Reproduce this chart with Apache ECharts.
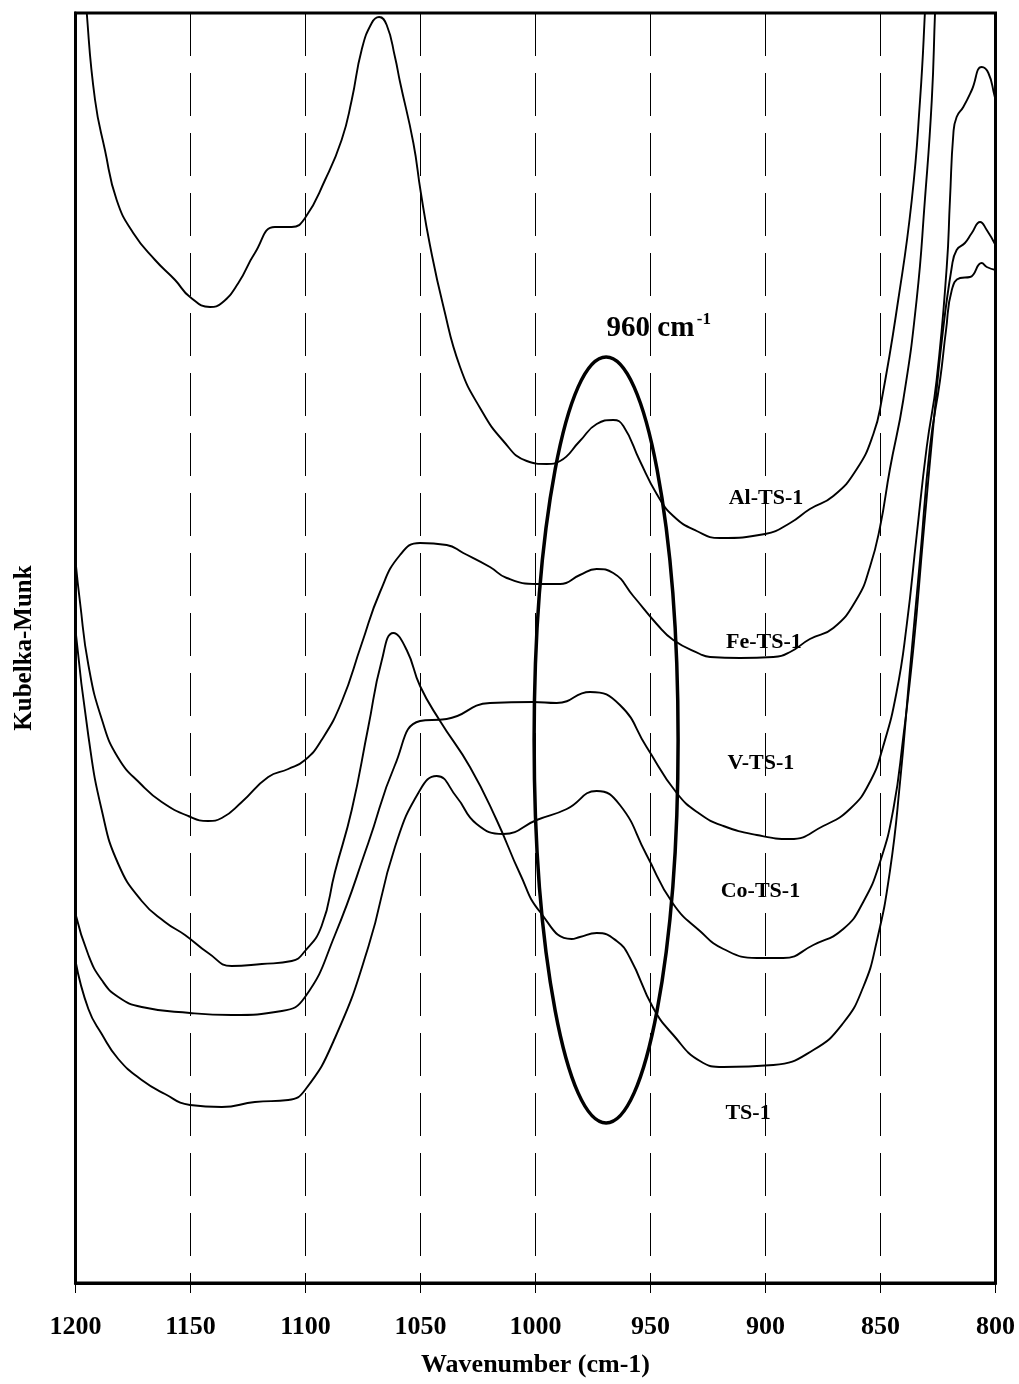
<!DOCTYPE html>
<html>
<head>
<meta charset="utf-8">
<script src="https://cdn.jsdelivr.net/npm/echarts@6/dist/echarts.min.js"></script>
<style>
html,body{margin:0;padding:0;background:#fff;}
#c{width:1019px;height:1384px;}
</style>
</head>
<body>
<div id="c"></div>
<script>
// ---- data: [wavenumber (cm-1), Kubelka-Munk (arbitrary units)] ----
const alTS1 = [
 [1196.3,132.3],[1195.1,127.0],[1191.5,118.3],[1187.2,113.3],[1182.1,108.3],[1174.9,105.0],
 [1165.4,102.3],[1156.7,100.3],[1150.2,98.6],[1141.5,97.6],[1136.4,98.0],[1129.2,100.0],
 [1122.0,103.0],[1113.3,105.6],[1106.0,105.6],[1100.2,106.5],[1091.5,110.3],[1084.3,114.3],
 [1079.9,118.3],[1075.6,123.3],[1071.2,126.0],[1068.0,126.6],[1064.7,125.8],[1061.1,122.6],
 [1058.9,120.1],[1053.1,114.0],[1049.9,109.1],[1045.9,103.8],[1040.1,97.7],[1032.8,91.6],
 [1024.1,87.5],[1014.0,84.2],[1003.8,82.2],[995.1,81.9],[989.3,82.2],[980.7,84.2],
 [973.4,85.9],[966.2,86.3],[961.8,85.7],[954.6,82.2],[947.3,78.9],[940.1,76.7],
 [929.9,75.2],[919.8,74.5],[900.2,74.9],[889.3,76.0],[880.7,77.4],[870.5,78.7],
 [860.3,81.4],[853.1,84.9],[849.5,88.3],[842.3,98.3],[836.4,108.3],[832.8,118.3],
 [830.7,127.0],[829.8,132.3]
];
const feTS1 = [
 [1200.0,72.2],[1198.0,68.0],[1194.4,61.8],[1188.6,56.4],[1181.4,52.5],[1171.2,49.8],
 [1162.5,48.1],[1151.0,46.7],[1142.3,46.2],[1136.4,46.5],[1127.7,48.1],[1116.2,50.6],
 [1107.5,51.4],[1100.2,52.3],[1093.0,54.3],[1084.3,58.1],[1075.6,63.9],[1067.6,69.1],
 [1058.9,72.8],[1050.2,74.0],[1038.6,73.8],[1031.4,73.0],[1019.8,71.6],[1012.5,70.5],
 [999.5,69.9],[989.3,69.9],[980.7,70.8],[973.4,71.4],[966.2,71.0],[957.5,68.7],
 [947.3,65.9],[940.1,64.3],[928.5,62.9],[924.1,62.6],[911.1,62.5],[896.6,62.6],
 [889.3,63.1],[880.7,64.4],[870.5,65.5],[860.3,68.4],[854.6,71.6],[850.2,75.6],
 [845.9,81.4],[840.1,88.3],[834.3,98.3],[830.7,108.3],[827.7,118.3],[826.3,127.0],
 [825.4,132.3]
];
const vTS1 = [
 [1200.0,36.9],[1194.4,32.8],[1188.6,30.3],[1181.4,28.6],[1171.2,27.6],[1150.2,27.0],
 [1132.1,26.8],[1110.3,27.2],[1100.2,28.6],[1087.2,34.8],[1072.7,44.0],[1061.1,51.8],
 [1050.2,56.2],[1038.6,56.4],[1019.8,58.0],[1001.1,58.1],[990.8,58.0],[976.3,59.1],
 [963.3,57.8],[951.7,53.6],[938.6,49.0],[928.5,46.9],[918.3,45.7],[903.8,44.8],
 [889.3,44.4],[874.9,45.7],[863.3,47.4],[854.6,50.1],[848.8,53.7],[843.0,59.1],
 [838.6,65.8],[834.3,74.7],[829.9,83.6],[825.6,90.3],[821.2,101.6],[819.8,108.3],
 [818.3,115.0],[816.9,116.6],[814.0,117.6],[810.3,119.3],[806.0,121.6],[803.1,121.0],
 [800.5,118.8],[800.0,118.3]
];
const coTS1 = [
 [1200.0,32.2],[1194.4,27.4],[1188.6,24.9],[1181.4,22.4],[1171.2,20.3],[1161.1,18.9],
 [1150.2,17.8],[1136.4,17.6],[1122.0,18.1],[1107.5,18.3],[1100.2,19.3],[1087.2,24.5],
 [1072.7,33.6],[1061.1,43.6],[1050.2,49.3],[1043.0,50.7],[1034.3,48.6],[1025.6,45.9],
 [1014.0,44.9],[999.5,46.3],[986.4,47.4],[973.4,49.2],[963.3,47.8],[951.7,42.8],
 [940.1,37.9],[928.5,35.2],[918.3,33.4],[903.8,32.5],[892.3,32.5],[879.2,33.8],
 [866.2,35.4],[857.5,38.1],[850.2,42.1],[844.4,47.4],[840.1,54.6],[835.7,63.5],
 [831.4,74.7],[827.0,85.8],[823.3,94.3],[819.0,101.6],[816.9,103.3],[813.3,104.0],
 [810.3,105.0],[806.7,106.1],[803.8,105.3],[800.0,103.8]
];
const ts1 = [
 [1200.0,65.3],[1194.4,54.7],[1188.6,47.3],[1181.4,41.9],[1171.2,38.2],[1161.1,36.1],
 [1152.4,34.8],[1142.3,33.0],[1132.1,31.7],[1119.0,31.9],[1106.0,32.2],[1100.2,33.2],
 [1093.0,35.7],[1087.2,41.1],[1079.9,47.3],[1072.7,55.6],[1066.9,62.2],[1061.8,65.0],
 [1056.0,63.3],[1050.2,59.7],[1041.5,56.2],[1028.5,51.6],[1016.9,46.3],[1006.7,40.9],
 [998.0,37.1],[984.3,34.4],[980.7,34.6],[973.4,35.0],[964.7,34.2],[958.9,32.5],
 [948.8,27.5],[940.1,24.8],[928.5,22.2],[918.3,21.6],[896.6,21.8],[879.2,23.3],
 [866.2,26.0],[857.5,29.6],[851.7,34.1],[845.9,41.2],[841.5,50.1],[837.2,61.3],
 [832.8,72.4],[828.5,83.6],[824.1,90.3],[821.5,95.3],[819.0,99.3],[815.4,100.5],
 [811.1,100.6],[806.0,102.0],[803.8,101.6],[800.0,101.3]
];
const seriesNames = ['Al-TS-1','Fe-TS-1','V-TS-1','Co-TS-1','TS-1'];
const seriesData = [alTS1, feTS1, vTS1, coTS1, ts1];
const xTicks = [1200,1150,1100,1050,1000,950,900,850,800];

// annotation anchors (data coordinates)
const labelAnchors = [[899.8,78.5],[900.7,64.1],[902.0,52.0],[902.2,39.2],[907.6,17.0]];
const bandLabel = '960 cm';
const bandSup = '-1';
const bandLabelAnchor = [950.0,95.4];
const bandSupAnchor = [926.8,96.3];
const ellipseCenter = [969.3,54.3];
const ellipseHalf = [31.3,38.3];

const FONT = '"Liberation Serif","Times New Roman",serif';
const chart = echarts.init(document.getElementById('c'), null, {renderer:'canvas'});

const option = {
  animation:false,
  backgroundColor:'#fff',
  grid:{left:75.5, right:23.5, top:13, bottom:101, show:true, borderColor:'#000', borderWidth:3, backgroundColor:'transparent'},
  xAxis:{
    type:'value', min:800, max:1200, interval:50, inverse:true,
    axisLine:{show:true, lineStyle:{color:'#000', width:3}},
    axisTick:{show:true, inside:false, length:10, lineStyle:{color:'#000', width:1}},
    axisLabel:{color:'#000', fontSize:26, fontWeight:'bold', fontFamily:FONT, margin:31,
      formatter:function(v){ return xTicks.indexOf(v) >= 0 ? String(v) : ''; }},
    splitLine:{show:true, lineStyle:{color:'#000', width:1, type:[43,17]}},
    name:'Wavenumber (cm-1)', nameLocation:'middle', nameGap:69,
    nameTextStyle:{color:'#000', fontSize:26, fontWeight:'bold', fontFamily:FONT}
  },
  yAxis:{
    type:'value', min:0, max:127,
    axisLine:{show:true, lineStyle:{color:'#000', width:3}},
    axisTick:{show:false}, axisLabel:{show:false}, splitLine:{show:false},
    name:'Kubelka-Munk', nameLocation:'middle', nameRotate:90, nameGap:38,
    nameTextStyle:{color:'#000', fontSize:25, fontWeight:'bold', fontFamily:FONT}
  },
  series: seriesNames.map(function(n,i){
    return {name:n, type:'line', data:seriesData[i], smooth:0.5,
      symbol:'none', clip:true, lineStyle:{color:'#000', width:1.9}, z:3};
  })
};
chart.setOption(option);

function P(pt){ return chart.convertToPixel({gridIndex:0}, pt); }
const graphics = [];
seriesNames.forEach(function(n,i){
  const p = P(labelAnchors[i]);
  graphics.push({type:'text', x:p[0], y:p[1], z:1,
    style:{text:n, fill:'#000', fontSize:22, fontWeight:'bold', fontFamily:FONT,
      textAlign:'center', textVerticalAlign:'middle', align:'center', verticalAlign:'middle'}});
});
const bl = P(bandLabelAnchor);
graphics.push({type:'text', x:bl[0], y:bl[1], z:1,
  style:{text:bandLabel, fill:'#000', fontSize:29, fontWeight:'bold', fontFamily:FONT,
    textAlign:'center', textVerticalAlign:'middle', align:'center', verticalAlign:'middle'}});
const bs = P(bandSupAnchor);
graphics.push({type:'text', x:bs[0], y:bs[1], z:1,
  style:{text:bandSup, fill:'#000', fontSize:17, fontWeight:'bold', fontFamily:FONT,
    textAlign:'center', textVerticalAlign:'middle', align:'center', verticalAlign:'middle'}});
const ec = P(ellipseCenter);
const ee = P([ellipseCenter[0]-ellipseHalf[0], ellipseCenter[1]+ellipseHalf[1]]);
graphics.push({type:'ellipse', z:10,
  shape:{cx:ec[0], cy:ec[1], rx:Math.abs(ee[0]-ec[0]), ry:Math.abs(ec[1]-ee[1])},
  style:{fill:'none', stroke:'#000', lineWidth:3.5}});
chart.setOption({graphic:graphics});
</script>
</body>
</html>
